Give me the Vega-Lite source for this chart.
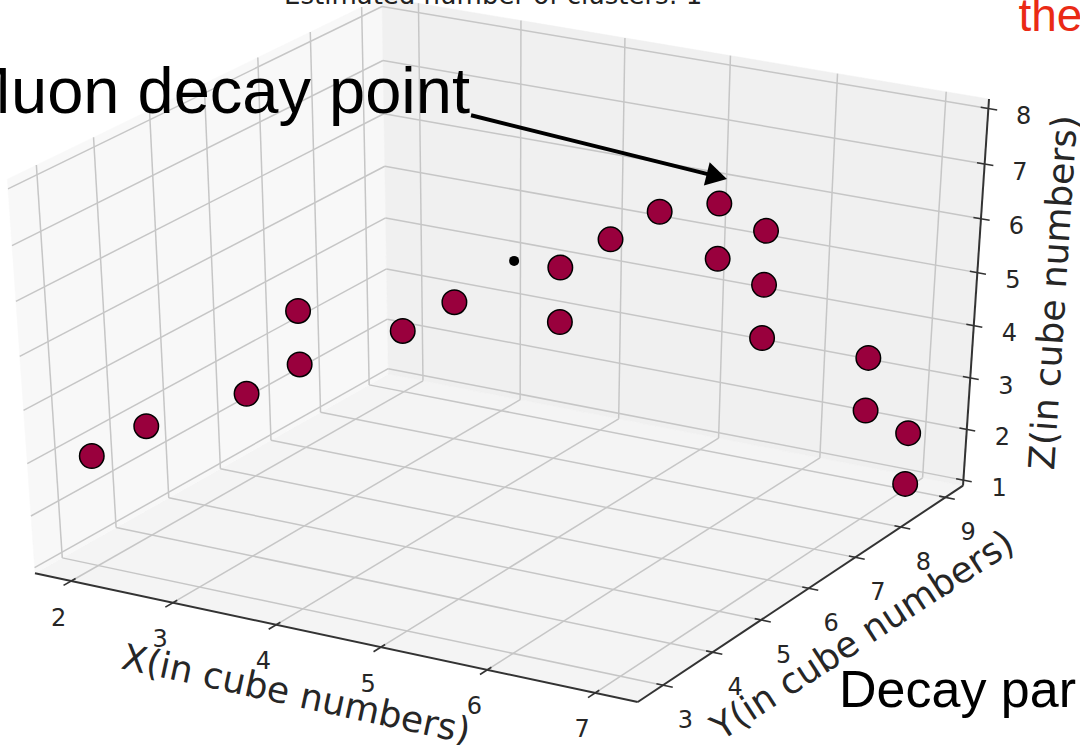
{
  "$schema": "https://vega.github.io/schema/vega-lite/v6.json",
  "width": 1080,
  "height": 745,
  "autosize": {"type": "none"},
  "padding": 0,
  "background": "white",
  "config": {"view": {"stroke": null}},
  "data": {
    "values": [
      {"role": "pane", "pane": "floor", "k": 1, "x": 1.64, "y": 2.5, "z": 0.89},
      {"role": "pane", "pane": "floor", "k": 2, "x": 7.39, "y": 2.5, "z": 0.89},
      {"role": "pane", "pane": "floor", "k": 3, "x": 7.39, "y": 9.4, "z": 0.89},
      {"role": "pane", "pane": "floor", "k": 4, "x": 1.64, "y": 9.4, "z": 0.89},
      {"role": "pane", "pane": "side", "k": 1, "x": 1.64, "y": 2.5, "z": 0.89},
      {"role": "pane", "pane": "side", "k": 2, "x": 1.64, "y": 9.4, "z": 0.89},
      {"role": "pane", "pane": "side", "k": 3, "x": 1.64, "y": 9.4, "z": 8.17},
      {"role": "pane", "pane": "side", "k": 4, "x": 1.64, "y": 2.5, "z": 8.17},
      {"role": "pane", "pane": "back", "k": 1, "x": 1.64, "y": 9.4, "z": 0.89},
      {"role": "pane", "pane": "back", "k": 2, "x": 7.39, "y": 9.4, "z": 0.89},
      {"role": "pane", "pane": "back", "k": 3, "x": 7.39, "y": 9.4, "z": 8.17},
      {"role": "pane", "pane": "back", "k": 4, "x": 1.64, "y": 9.4, "z": 8.17},

      {"role": "grid", "x": 2, "y": 2.5, "z": 0.89, "x2": 2, "y2": 9.4, "z2": 0.89},
      {"role": "grid", "x": 3, "y": 2.5, "z": 0.89, "x2": 3, "y2": 9.4, "z2": 0.89},
      {"role": "grid", "x": 4, "y": 2.5, "z": 0.89, "x2": 4, "y2": 9.4, "z2": 0.89},
      {"role": "grid", "x": 5, "y": 2.5, "z": 0.89, "x2": 5, "y2": 9.4, "z2": 0.89},
      {"role": "grid", "x": 6, "y": 2.5, "z": 0.89, "x2": 6, "y2": 9.4, "z2": 0.89},
      {"role": "grid", "x": 7, "y": 2.5, "z": 0.89, "x2": 7, "y2": 9.4, "z2": 0.89},
      {"role": "grid", "x": 1.64, "y": 3, "z": 0.89, "x2": 7.39, "y2": 3, "z2": 0.89},
      {"role": "grid", "x": 1.64, "y": 4, "z": 0.89, "x2": 7.39, "y2": 4, "z2": 0.89},
      {"role": "grid", "x": 1.64, "y": 5, "z": 0.89, "x2": 7.39, "y2": 5, "z2": 0.89},
      {"role": "grid", "x": 1.64, "y": 6, "z": 0.89, "x2": 7.39, "y2": 6, "z2": 0.89},
      {"role": "grid", "x": 1.64, "y": 7, "z": 0.89, "x2": 7.39, "y2": 7, "z2": 0.89},
      {"role": "grid", "x": 1.64, "y": 8, "z": 0.89, "x2": 7.39, "y2": 8, "z2": 0.89},
      {"role": "grid", "x": 1.64, "y": 9, "z": 0.89, "x2": 7.39, "y2": 9, "z2": 0.89},
      {"role": "grid", "x": 1.64, "y": 3, "z": 0.89, "x2": 1.64, "y2": 3, "z2": 8.17},
      {"role": "grid", "x": 1.64, "y": 4, "z": 0.89, "x2": 1.64, "y2": 4, "z2": 8.17},
      {"role": "grid", "x": 1.64, "y": 5, "z": 0.89, "x2": 1.64, "y2": 5, "z2": 8.17},
      {"role": "grid", "x": 1.64, "y": 6, "z": 0.89, "x2": 1.64, "y2": 6, "z2": 8.17},
      {"role": "grid", "x": 1.64, "y": 7, "z": 0.89, "x2": 1.64, "y2": 7, "z2": 8.17},
      {"role": "grid", "x": 1.64, "y": 8, "z": 0.89, "x2": 1.64, "y2": 8, "z2": 8.17},
      {"role": "grid", "x": 1.64, "y": 9, "z": 0.89, "x2": 1.64, "y2": 9, "z2": 8.17},
      {"role": "grid", "x": 1.64, "y": 2.5, "z": 1, "x2": 1.64, "y2": 9.4, "z2": 1},
      {"role": "grid", "x": 1.64, "y": 2.5, "z": 2, "x2": 1.64, "y2": 9.4, "z2": 2},
      {"role": "grid", "x": 1.64, "y": 2.5, "z": 3, "x2": 1.64, "y2": 9.4, "z2": 3},
      {"role": "grid", "x": 1.64, "y": 2.5, "z": 4, "x2": 1.64, "y2": 9.4, "z2": 4},
      {"role": "grid", "x": 1.64, "y": 2.5, "z": 5, "x2": 1.64, "y2": 9.4, "z2": 5},
      {"role": "grid", "x": 1.64, "y": 2.5, "z": 6, "x2": 1.64, "y2": 9.4, "z2": 6},
      {"role": "grid", "x": 1.64, "y": 2.5, "z": 7, "x2": 1.64, "y2": 9.4, "z2": 7},
      {"role": "grid", "x": 1.64, "y": 2.5, "z": 8, "x2": 1.64, "y2": 9.4, "z2": 8},
      {"role": "grid", "x": 2, "y": 9.4, "z": 0.89, "x2": 2, "y2": 9.4, "z2": 8.17},
      {"role": "grid", "x": 3, "y": 9.4, "z": 0.89, "x2": 3, "y2": 9.4, "z2": 8.17},
      {"role": "grid", "x": 4, "y": 9.4, "z": 0.89, "x2": 4, "y2": 9.4, "z2": 8.17},
      {"role": "grid", "x": 5, "y": 9.4, "z": 0.89, "x2": 5, "y2": 9.4, "z2": 8.17},
      {"role": "grid", "x": 6, "y": 9.4, "z": 0.89, "x2": 6, "y2": 9.4, "z2": 8.17},
      {"role": "grid", "x": 7, "y": 9.4, "z": 0.89, "x2": 7, "y2": 9.4, "z2": 8.17},
      {"role": "grid", "x": 1.64, "y": 9.4, "z": 1, "x2": 7.39, "y2": 9.4, "z2": 1},
      {"role": "grid", "x": 1.64, "y": 9.4, "z": 2, "x2": 7.39, "y2": 9.4, "z2": 2},
      {"role": "grid", "x": 1.64, "y": 9.4, "z": 3, "x2": 7.39, "y2": 9.4, "z2": 3},
      {"role": "grid", "x": 1.64, "y": 9.4, "z": 4, "x2": 7.39, "y2": 9.4, "z2": 4},
      {"role": "grid", "x": 1.64, "y": 9.4, "z": 5, "x2": 7.39, "y2": 9.4, "z2": 5},
      {"role": "grid", "x": 1.64, "y": 9.4, "z": 6, "x2": 7.39, "y2": 9.4, "z2": 6},
      {"role": "grid", "x": 1.64, "y": 9.4, "z": 7, "x2": 7.39, "y2": 9.4, "z2": 7},
      {"role": "grid", "x": 1.64, "y": 9.4, "z": 8, "x2": 7.39, "y2": 9.4, "z2": 8},

      {"role": "axisline", "x": 1.64, "y": 2.5, "z": 0.89, "x2": 7.39, "y2": 2.5, "z2": 0.89},
      {"role": "axisline", "x": 7.39, "y": 2.5, "z": 0.89, "x2": 7.39, "y2": 9.4, "z2": 0.89},
      {"role": "axisline", "x": 7.39, "y": 9.4, "z": 0.89, "x2": 7.39, "y2": 9.4, "z2": 8.17},

      {"role": "tick", "axis": "x", "label": "2", "x": 2, "y": 2.58, "z": 0.89, "x2": 2, "y2": 2.36, "z2": 0.89},
      {"role": "tick", "axis": "x", "label": "3", "x": 3, "y": 2.58, "z": 0.89, "x2": 3, "y2": 2.36, "z2": 0.89},
      {"role": "tick", "axis": "x", "label": "4", "x": 4, "y": 2.58, "z": 0.89, "x2": 4, "y2": 2.36, "z2": 0.89},
      {"role": "tick", "axis": "x", "label": "5", "x": 5, "y": 2.58, "z": 0.89, "x2": 5, "y2": 2.36, "z2": 0.89},
      {"role": "tick", "axis": "x", "label": "6", "x": 6, "y": 2.58, "z": 0.89, "x2": 6, "y2": 2.36, "z2": 0.89},
      {"role": "tick", "axis": "x", "label": "7", "x": 7, "y": 2.58, "z": 0.89, "x2": 7, "y2": 2.36, "z2": 0.89},
      {"role": "tick", "axis": "y", "label": "3", "x": 7.33, "y": 3, "z": 0.89, "x2": 7.48, "y2": 3, "z2": 0.89},
      {"role": "tick", "axis": "y", "label": "4", "x": 7.33, "y": 4, "z": 0.89, "x2": 7.48, "y2": 4, "z2": 0.89},
      {"role": "tick", "axis": "y", "label": "5", "x": 7.33, "y": 5, "z": 0.89, "x2": 7.48, "y2": 5, "z2": 0.89},
      {"role": "tick", "axis": "y", "label": "6", "x": 7.33, "y": 6, "z": 0.89, "x2": 7.48, "y2": 6, "z2": 0.89},
      {"role": "tick", "axis": "y", "label": "7", "x": 7.33, "y": 7, "z": 0.89, "x2": 7.48, "y2": 7, "z2": 0.89},
      {"role": "tick", "axis": "y", "label": "8", "x": 7.33, "y": 8, "z": 0.89, "x2": 7.48, "y2": 8, "z2": 0.89},
      {"role": "tick", "axis": "y", "label": "9", "x": 7.33, "y": 9, "z": 0.89, "x2": 7.48, "y2": 9, "z2": 0.89},
      {"role": "tick", "axis": "z", "label": "1", "x": 7.32, "y": 9.4, "z": 1, "x2": 7.47, "y2": 9.4, "z2": 1},
      {"role": "tick", "axis": "z", "label": "2", "x": 7.32, "y": 9.4, "z": 2, "x2": 7.47, "y2": 9.4, "z2": 2},
      {"role": "tick", "axis": "z", "label": "3", "x": 7.32, "y": 9.4, "z": 3, "x2": 7.47, "y2": 9.4, "z2": 3},
      {"role": "tick", "axis": "z", "label": "4", "x": 7.32, "y": 9.4, "z": 4, "x2": 7.47, "y2": 9.4, "z2": 4},
      {"role": "tick", "axis": "z", "label": "5", "x": 7.32, "y": 9.4, "z": 5, "x2": 7.47, "y2": 9.4, "z2": 5},
      {"role": "tick", "axis": "z", "label": "6", "x": 7.32, "y": 9.4, "z": 6, "x2": 7.47, "y2": 9.4, "z2": 6},
      {"role": "tick", "axis": "z", "label": "7", "x": 7.32, "y": 9.4, "z": 7, "x2": 7.47, "y2": 9.4, "z2": 7},
      {"role": "tick", "axis": "z", "label": "8", "x": 7.32, "y": 9.4, "z": 8, "x2": 7.47, "y2": 9.4, "z2": 8},

      {"role": "axtitle", "axis": "x", "label": "X(in cube numbers)", "x": 4.95, "y": 1.01, "z": 0.89},
      {"role": "axtitle", "axis": "y", "label": "Y(in cube numbers)", "x": 8.28, "y": 5.12, "z": 0.89},
      {"role": "axtitle", "axis": "z", "label": "Z(in cube numbers)", "x": 8.11, "y": 9.4, "z": 4.89},
      {"role": "heading", "label": "Estimated number of clusters: 1", "x": 2.73, "y": 9.4, "z": 8.385},

      {"role": "hit", "x": 2, "y": 3, "z": 3},
      {"role": "hit", "x": 2, "y": 4, "z": 3},
      {"role": "hit", "x": 3, "y": 4, "z": 4},
      {"role": "hit", "x": 3, "y": 5, "z": 4},
      {"role": "hit", "x": 3, "y": 5, "z": 5},
      {"role": "hit", "x": 4, "y": 5, "z": 5},
      {"role": "hit", "x": 4, "y": 6, "z": 5},
      {"role": "hit", "x": 5, "y": 6, "z": 5},
      {"role": "hit", "x": 5, "y": 6, "z": 6},
      {"role": "hit", "x": 5, "y": 7, "z": 6},
      {"role": "hit", "x": 5, "y": 8, "z": 6},
      {"role": "hit", "x": 6, "y": 7, "z": 6},
      {"role": "hit", "x": 6, "y": 7, "z": 7},
      {"role": "hit", "x": 6, "y": 8, "z": 6},
      {"role": "hit", "x": 6, "y": 8, "z": 5},
      {"role": "hit", "x": 6, "y": 8, "z": 4},
      {"role": "hit", "x": 7, "y": 8, "z": 4},
      {"role": "hit", "x": 7, "y": 8, "z": 3},
      {"role": "hit", "x": 7, "y": 9, "z": 2},
      {"role": "hit", "x": 7, "y": 9, "z": 1},
      {"role": "center", "x": 4.5, "y": 6.14, "z": 5.87},

      {"role": "arrow", "x": 2.51, "y": 9.4, "z": 6.26, "x2": 5.97, "y2": 7, "z2": 7.476},
      {"role": "arrowhead", "x": 5.97, "y": 7, "z": 7.476},
      {"role": "note", "key": "muon", "label": "Muon decay point", "x": 2.51, "y": 9.4, "z": 6.26},
      {"role": "note", "key": "the", "label": "the", "x": 7.61, "y": 9.4, "z": 9.44},
      {"role": "note", "key": "decay", "label": "Decay par", "x": 8.86, "y": 3.37, "z": 0.89}
    ]
  },
  "transform": [
    {"calculate": "(datum.x-1.64)/5.75-0.5", "as": "u"},
    {"calculate": "(datum.y-2.5)/6.9-0.5", "as": "v"},
    {"calculate": "((datum.z-0.89)/7.28-0.5)*1.06", "as": "w"},
    {"calculate": "10-(0.42402*datum.u-0.73443*datum.v+0.52992*datum.w)", "as": "dep"},
    {"calculate": "10*(0.86603*datum.u+0.5*datum.v)/datum.dep", "as": "sx"},
    {"calculate": "10*(-0.26496*datum.u+0.45892*datum.v+0.84805*datum.w)/datum.dep", "as": "sy"},
    {"calculate": "(datum.x2-1.64)/5.75-0.5", "as": "u2"},
    {"calculate": "(datum.y2-2.5)/6.9-0.5", "as": "v2"},
    {"calculate": "((datum.z2-0.89)/7.28-0.5)*1.06", "as": "w2"},
    {"calculate": "10-(0.42402*datum.u2-0.73443*datum.v2+0.52992*datum.w2)", "as": "dep2"},
    {"calculate": "10*(0.86603*datum.u2+0.5*datum.v2)/datum.dep2", "as": "sx2"},
    {"calculate": "10*(-0.26496*datum.u2+0.45892*datum.v2+0.84805*datum.w2)/datum.dep2", "as": "sy2"}
  ],
  "encoding": {
    "x": {"field": "sx", "type": "quantitative", "axis": null, "scale": {"domain": [-0.724617, 0.822], "nice": false, "zero": false}},
    "y": {"field": "sy", "type": "quantitative", "axis": null, "scale": {"domain": [-0.935469, 0.781517], "nice": false, "zero": false}}
  },
  "layer": [
    {
      "transform": [{"filter": "datum.role === 'pane' && datum.pane === 'floor'"}],
      "mark": {"type": "line", "interpolate": "linear-closed", "fill": "#f4f4f4", "stroke": "#f4f4f4", "strokeWidth": 0.5},
      "encoding": {"order": {"field": "k", "type": "quantitative"}}
    },
    {
      "transform": [{"filter": "datum.role === 'pane' && datum.pane === 'side'"}],
      "mark": {"type": "line", "interpolate": "linear-closed", "fill": "#f8f8f8", "stroke": "#f8f8f8", "strokeWidth": 0.5},
      "encoding": {"order": {"field": "k", "type": "quantitative"}}
    },
    {
      "transform": [{"filter": "datum.role === 'pane' && datum.pane === 'back'"}],
      "mark": {"type": "line", "interpolate": "linear-closed", "fill": "#f0f0f0", "stroke": "#f0f0f0", "strokeWidth": 0.5},
      "encoding": {"order": {"field": "k", "type": "quantitative"}}
    },
    {
      "transform": [{"filter": "datum.role === 'grid'"}],
      "mark": {"type": "rule", "stroke": "#c6c6c6", "strokeWidth": 1.5},
      "encoding": {"x2": {"field": "sx2"}, "y2": {"field": "sy2"}}
    },
    {
      "transform": [{"filter": "datum.role === 'axisline'"}],
      "mark": {"type": "rule", "stroke": "#333333", "strokeWidth": 2},
      "encoding": {"x2": {"field": "sx2"}, "y2": {"field": "sy2"}}
    },
    {
      "transform": [{"filter": "datum.role === 'tick'"}],
      "mark": {"type": "rule", "stroke": "#333333", "strokeWidth": 1.6},
      "encoding": {"x2": {"field": "sx2"}, "y2": {"field": "sy2"}}
    },
    {
      "transform": [{"filter": "datum.role === 'tick' && datum.axis === 'x'"}],
      "mark": {"type": "text", "font": "DejaVu Sans", "fontSize": 24, "fill": "#262626", "align": "center", "baseline": "middle", "dx": -17, "dy": 40},
      "encoding": {"text": {"field": "label"}}
    },
    {
      "transform": [{"filter": "datum.role === 'tick' && datum.axis === 'y'"}],
      "mark": {"type": "text", "font": "DejaVu Sans", "fontSize": 24, "fill": "#262626", "align": "center", "baseline": "middle", "dx": 29, "dy": 37},
      "encoding": {"text": {"field": "label"}}
    },
    {
      "transform": [{"filter": "datum.role === 'tick' && datum.axis === 'z'"}],
      "mark": {"type": "text", "font": "DejaVu Sans", "fontSize": 24, "fill": "#262626", "align": "center", "baseline": "middle", "dx": 43, "dy": 10},
      "encoding": {"text": {"field": "label"}}
    },
    {
      "transform": [{"filter": "datum.role === 'axtitle' && datum.axis === 'x'"}],
      "mark": {"type": "text", "font": "DejaVu Sans", "fontSize": 36, "fill": "#262626", "align": "center", "baseline": "middle", "angle": 12.3},
      "encoding": {"text": {"field": "label"}}
    },
    {
      "transform": [{"filter": "datum.role === 'axtitle' && datum.axis === 'y'"}],
      "mark": {"type": "text", "font": "DejaVu Sans", "fontSize": 36, "fill": "#262626", "align": "center", "baseline": "middle", "angle": -33},
      "encoding": {"text": {"field": "label"}}
    },
    {
      "transform": [{"filter": "datum.role === 'axtitle' && datum.axis === 'z'"}],
      "mark": {"type": "text", "font": "DejaVu Sans", "fontSize": 36, "fill": "#262626", "align": "center", "baseline": "middle", "angle": -86.3},
      "encoding": {"text": {"field": "label"}}
    },
    {
      "transform": [{"filter": "datum.role === 'heading'"}],
      "mark": {"type": "text", "font": "DejaVu Sans", "fontSize": 26, "fill": "#222222", "align": "center", "baseline": "alphabetic"},
      "encoding": {"text": {"field": "label"}}
    },
    {
      "transform": [{"filter": "datum.role === 'hit'"}],
      "mark": {"type": "point", "shape": "circle", "filled": true, "fill": "#99003d", "stroke": "#000000", "strokeWidth": 1.5, "size": 600, "opacity": 1, "fillOpacity": 1, "strokeOpacity": 1},
      "encoding": {"order": {"field": "dep", "type": "quantitative", "sort": "descending"}}
    },
    {
      "transform": [{"filter": "datum.role === 'center'"}],
      "mark": {"type": "point", "shape": "circle", "filled": true, "fill": "#000000", "size": 100, "opacity": 1}
    },
    {
      "transform": [{"filter": "datum.role === 'arrow'"}],
      "mark": {"type": "rule", "stroke": "#000000", "strokeWidth": 4},
      "encoding": {"x2": {"field": "sx2"}, "y2": {"field": "sy2"}}
    },
    {
      "transform": [{"filter": "datum.role === 'arrowhead'"}],
      "mark": {"type": "point", "shape": "triangle-right", "filled": true, "fill": "#000000", "size": 576, "angle": 14, "opacity": 1}
    },
    {
      "transform": [{"filter": "datum.role === 'note' && datum.key === 'muon'"}],
      "mark": {"type": "text", "font": "Liberation Sans", "fontSize": 65, "fill": "#000000", "align": "right", "baseline": "alphabetic", "dx": -1, "dy": -2},
      "encoding": {"text": {"field": "label"}}
    },
    {
      "transform": [{"filter": "datum.role === 'note' && datum.key === 'the'"}],
      "mark": {"type": "text", "font": "Liberation Sans", "fontSize": 46, "fill": "#ea2a15", "align": "left", "baseline": "alphabetic"},
      "encoding": {"text": {"field": "label"}}
    },
    {
      "transform": [{"filter": "datum.role === 'note' && datum.key === 'decay'"}],
      "mark": {"type": "text", "font": "Liberation Sans", "fontSize": 52, "fill": "#000000", "align": "left", "baseline": "alphabetic", "dx": -4},
      "encoding": {"text": {"field": "label"}}
    }
  ]
}
